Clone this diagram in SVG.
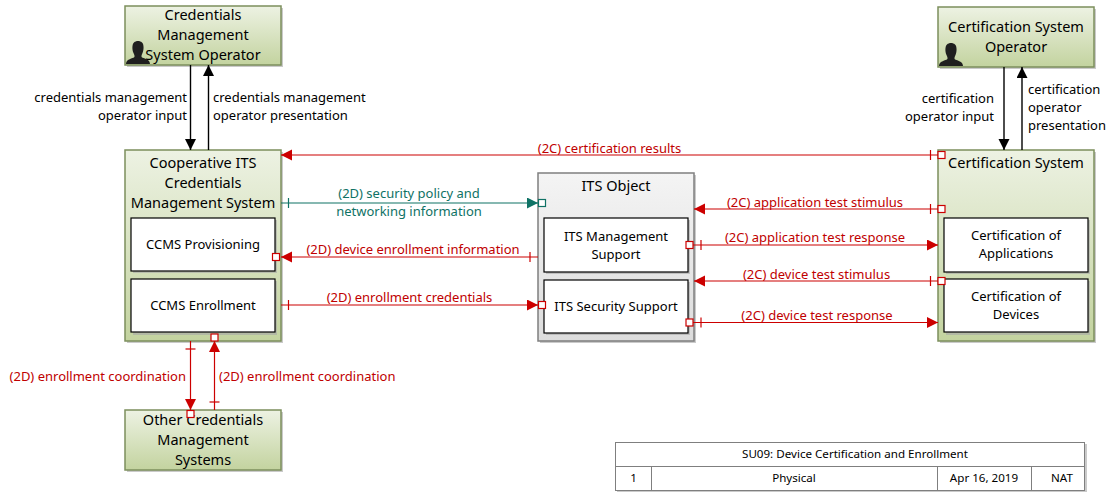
<svg xmlns="http://www.w3.org/2000/svg" width="1115" height="493" viewBox="0 0 1115 493">
<style>
text{font-family:"Noto Sans","Open Sans","Liberation Sans",sans-serif;fill:#000}
.t{font-size:14.5px;text-anchor:middle}
.i{font-size:13px;text-anchor:middle}
.l{font-size:13px}
.m{text-anchor:middle}
.e{text-anchor:end}
.r{fill:#c00000}
.g{fill:#0f7265}
.box{fill:url(#grn);stroke:#7c8f5c;stroke-width:1.5}
.obj{fill:url(#gry);stroke:#7f7f7f;stroke-width:1.5}
.sh{fill:#a6a6a6;opacity:.6}
.in{fill:#fff;stroke:#000;stroke-width:1.2}
.k{stroke:#000;stroke-width:1.4;fill:none}
.rl{stroke:#cc0000;stroke-width:1.2;fill:none}
.gl{stroke:#0f7265;stroke-width:1.2;fill:none}
.rs{fill:#fff;stroke:#cc0000;stroke-width:1.2}
.gs{fill:#fff;stroke:#0f7265;stroke-width:1.2}
.cell{fill:#fff;stroke:#7f7f7f;stroke-width:1}
.c{font-size:11.6px;text-anchor:middle}
</style>
<defs>
<linearGradient id="grn" x1="0" y1="0" x2="0" y2="1"><stop offset="0" stop-color="#edf2e3"/><stop offset="1" stop-color="#c3d39f"/></linearGradient>
<linearGradient id="gry" x1="0" y1="0" x2="0" y2="1"><stop offset="0" stop-color="#f4f4f4"/><stop offset="1" stop-color="#dcdcdc"/></linearGradient>
<marker id="ak" markerUnits="userSpaceOnUse" markerWidth="12" markerHeight="12" refX="11" refY="5.500" orient="auto"><path d="M0 0L11 5.500L0 11z" fill="#000"/></marker>
<marker id="ar" markerUnits="userSpaceOnUse" markerWidth="12" markerHeight="12" refX="11" refY="5.500" orient="auto"><path d="M0 0L11 5.500L0 11z" fill="#cc0000"/></marker>
<marker id="ag" markerUnits="userSpaceOnUse" markerWidth="12" markerHeight="12" refX="11" refY="5.500" orient="auto"><path d="M0 0L11 5.500L0 11z" fill="#0f7265"/></marker>
<path id="person" d="M0 23C0 19 4 18 8 16.500C9 15.500 8.500 14 7.500 12C6 9 6 3 8 1.500C10 -0.500 14 -0.500 16 1.500C18 3 18 9 16.500 12C15.500 14 15 15.500 16 16.500C20 18 24 19 24 23z" fill="#1f1f1f"/>
</defs>

<g id="node-cmso">
<rect class="sh" x="127" y="8" width="156" height="59"/>
<rect class="box" x="125" y="6" width="156" height="59"/>
<use href="#person" x="126" y="41"/>
<text class="t" x="203" y="20">Credentials</text>
<text class="t" x="203" y="40">Management</text>
<text class="t" x="203" y="60">System Operator</text>
</g>

<g id="node-ccms">
<rect class="sh" x="127" y="152" width="156" height="191"/>
<rect class="box" x="125" y="150" width="156" height="191"/>
<text class="t" x="203" y="168">Cooperative ITS</text>
<text class="t" x="203" y="188">Credentials</text>
<text class="t" x="203" y="208">Management System</text>
</g>
<g id="node-ccms-provisioning">
<rect class="sh" x="133" y="220" width="144" height="53"/>
<rect class="in" x="131" y="218" width="144" height="53"/>
<text class="i" x="203" y="249">CCMS Provisioning</text>
</g>
<g id="node-ccms-enrollment">
<rect class="sh" x="133" y="281" width="144" height="54"/>
<rect class="in" x="131" y="279" width="144" height="53"/>
<text class="i" x="203" y="310">CCMS Enrollment</text>
</g>

<g id="node-other">
<rect class="sh" x="127" y="412" width="156" height="60"/>
<rect class="box" x="125" y="410" width="156" height="60"/>
<text class="t" x="203" y="425">Other Credentials</text>
<text class="t" x="203" y="445">Management</text>
<text class="t" x="203" y="465">Systems</text>
</g>

<g id="node-its-object">
<rect class="sh" x="540" y="175" width="156" height="168"/>
<rect class="obj" x="538" y="173" width="156" height="168"/>
<text class="t" x="616" y="191">ITS Object</text>
</g>
<g id="node-its-mgmt">
<rect class="sh" x="546" y="220" width="144" height="54"/>
<rect class="in" x="544" y="218" width="144" height="54"/>
<text class="i" x="616" y="241">ITS Management</text>
<text class="i" x="616" y="259">Support</text>
</g>
<g id="node-its-sec">
<rect class="sh" x="546" y="282" width="144" height="53"/>
<rect class="in" x="544" y="280" width="144" height="53"/>
<text class="i" x="616" y="311">ITS Security Support</text>
</g>

<g id="node-cso">
<rect class="sh" x="940" y="9" width="156" height="60"/>
<rect class="box" x="938" y="7" width="156" height="60"/>
<use href="#person" x="939" y="43"/>
<text class="t" x="1016" y="32">Certification System</text>
<text class="t" x="1016" y="52">Operator</text>
</g>

<g id="node-cs">
<rect class="sh" x="940" y="152" width="156" height="191"/>
<rect class="box" x="938" y="150" width="156" height="191"/>
<text class="t" x="1016" y="168">Certification System</text>
</g>
<g id="node-cs-apps">
<rect class="sh" x="946" y="220" width="144" height="54"/>
<rect class="in" x="944" y="218" width="144" height="54"/>
<text class="i" x="1016" y="240">Certification of</text>
<text class="i" x="1016" y="258">Applications</text>
</g>
<g id="node-cs-dev">
<rect class="sh" x="946" y="281" width="144" height="54"/>
<rect class="in" x="944" y="279" width="144" height="53"/>
<text class="i" x="1016" y="301">Certification of</text>
<text class="i" x="1016" y="319">Devices</text>
</g>

<g id="connectors">
<path class="k" d="M190.500 65V150" marker-end="url(#ak)"/>
<path class="k" d="M208.500 150V65" marker-end="url(#ak)"/>
<path class="k" d="M1004 67V150" marker-end="url(#ak)"/>
<path class="k" d="M1022 150V67" marker-end="url(#ak)"/>

<path class="rl" d="M938 155H281" marker-end="url(#ar)"/>
<path class="rl" d="M930.500 150V160"/><rect class="rs" x="938" y="151.500" width="7" height="7"/>

<path class="gl" d="M281 203H538" marker-end="url(#ag)"/>
<path class="gl" d="M288.500 198V208"/><rect class="gs" x="538.500" y="199.500" width="7" height="7"/>

<path class="rl" d="M538 257H281" marker-end="url(#ar)"/>
<path class="rl" d="M530 252V262"/><rect class="rs" x="272.500" y="253.500" width="7" height="7"/>

<path class="rl" d="M281 305H538" marker-end="url(#ar)"/>
<path class="rl" d="M288.500 300V310"/><rect class="rs" x="538.500" y="301.500" width="7" height="7"/>

<path class="rl" d="M938 209H694" marker-end="url(#ar)"/>
<path class="rl" d="M930.500 204V214"/><rect class="rs" x="938" y="205.500" width="7" height="7"/>

<path class="rl" d="M688 245H938" marker-end="url(#ar)"/>
<path class="rl" d="M701 240V250"/><rect class="rs" x="686" y="241.500" width="7" height="7"/>

<path class="rl" d="M938 281H694" marker-end="url(#ar)"/>
<path class="rl" d="M930.500 276V286"/><rect class="rs" x="938" y="277.500" width="7" height="7"/>

<path class="rl" d="M688 322.500H938" marker-end="url(#ar)"/>
<path class="rl" d="M701 317.500V327.500"/><rect class="rs" x="686" y="319" width="7" height="7"/>

<path class="rl" d="M190.500 341V410" marker-end="url(#ar)"/>
<path class="rl" d="M185.500 349H195.500"/><rect class="rs" x="187" y="410.500" width="7" height="7"/>

<path class="rl" d="M214.500 410V341" marker-end="url(#ar)"/>
<path class="rl" d="M209.500 402H219.500"/><rect class="rs" x="211" y="334" width="7" height="7"/>

<text class="l e" x="187" y="102">credentials management</text>
<text class="l e" x="187" y="120">operator input</text>
<text class="l" x="213" y="102">credentials management</text>
<text class="l" x="213" y="120">operator presentation</text>
<text class="l e" x="994" y="103">certification</text>
<text class="l e" x="994" y="121">operator input</text>
<text class="l" x="1028" y="94">certification</text>
<text class="l" x="1028" y="112">operator</text>
<text class="l" x="1028" y="130">presentation</text>

<text class="l m r" x="609.500" y="153">(2C) certification results</text>
<text class="l m g" x="409" y="198">(2D) security policy and</text>
<text class="l m g" x="409" y="216">networking information</text>
<text class="l m r" x="413" y="254">(2D) device enrollment information</text>
<text class="l m r" x="409.500" y="302">(2D) enrollment credentials</text>
<text class="l m r" x="815" y="207">(2C) application test stimulus</text>
<text class="l m r" x="815" y="242">(2C) application test response</text>
<text class="l m r" x="816.500" y="279">(2C) device test stimulus</text>
<text class="l m r" x="817" y="320">(2C) device test response</text>
<text class="l e r" x="186" y="381">(2D) enrollment coordination</text>
<text class="l r" x="219" y="381">(2D) enrollment coordination</text>
</g>

<g id="title-block">
<rect class="sh" x="617" y="444" width="470" height="48"/>
<rect class="cell" x="615.500" y="442.500" width="469" height="24"/>
<rect class="cell" x="615.500" y="466.500" width="36" height="24"/>
<rect class="cell" x="651.500" y="466.500" width="286" height="24"/>
<rect class="cell" x="937.500" y="466.500" width="94" height="24"/>
<rect class="cell" x="1031.500" y="466.500" width="53" height="24"/>
<text class="c" x="855" y="458">SU09: Device Certification and Enrollment</text>
<text class="c" x="633.500" y="482">1</text>
<text class="c" x="794" y="482">Physical</text>
<text class="c" x="984" y="482">Apr 16, 2019</text>
<text class="c" x="1062" y="482">NAT</text>
</g>
</svg>
